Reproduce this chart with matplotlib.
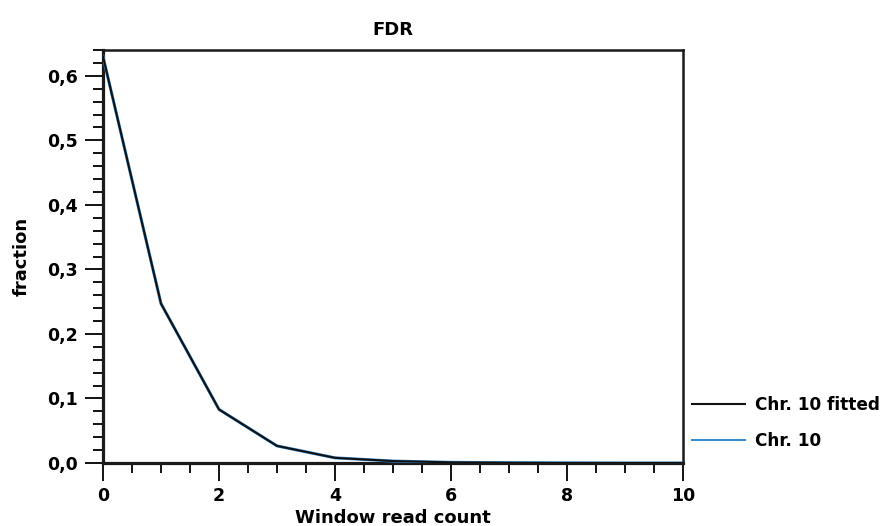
import numpy as np
import matplotlib
matplotlib.use("Agg")
import matplotlib.pyplot as plt
from matplotlib.ticker import MultipleLocator, FuncFormatter
from matplotlib.lines import Line2D

plt.rcParams['font.family'] = ['DejaVu Sans']
plt.rcParams['font.weight'] = 'bold'

# values
window_count = [0, 1, 2, 3, 4, 5, 6, 7, 8, 9, 10]
chr10 = [0.63, 0.247, 0.083, 0.0265, 0.008, 0.003, 0.001, 0.0004, 0.0001, 0.0, 0.0]
chr10_fitted = [0.63, 0.247, 0.083, 0.0265, 0.008, 0.003, 0.001, 0.0004, 0.0001, 0.0, 0.0]
series_labels = ["Chr. 10 fitted", "Chr. 10"]

fig = plt.figure(figsize=(8.85, 5.26), dpi=100)
ax = fig.add_axes([103 / 885, 1 - 463 / 526, 580 / 885, 413 / 526])

ax.plot(window_count, chr10, color='#3a8ed4', lw=2.2, zorder=3)
ax.plot(window_count, chr10_fitted, color='#111111', lw=1.5, zorder=4)

ax.set_xlim(0, 10)
ax.set_ylim(0, 0.64)
ax.xaxis.set_major_locator(MultipleLocator(2))
ax.xaxis.set_minor_locator(MultipleLocator(0.5))
ax.yaxis.set_major_locator(MultipleLocator(0.1))
ax.yaxis.set_minor_locator(MultipleLocator(0.02))
ax.yaxis.set_major_formatter(FuncFormatter(lambda v, p: f"{v:.1f}".replace('.', ',')))
ax.xaxis.set_major_formatter(FuncFormatter(lambda v, p: f"{v:.0f}"))

ax.tick_params(which='major', direction='out', length=13, width=1.3, labelsize=12.5, pad=4)
ax.tick_params(which='minor', direction='out', length=7.5, width=1.3)
ax.tick_params(axis='y', which='major', pad=5)

for side in ['left', 'bottom']:
    ax.spines[side].set_linewidth(2.3)
for side in ['top', 'right']:
    ax.spines[side].set_linewidth(1.8)
for sp in ax.spines.values():
    sp.set_color('#1a1a1a')

ax.set_title("FDR", fontsize=13, fontweight='bold', pad=11)
ax.set_xlabel("Window read count", fontsize=13, fontweight='bold', labelpad=3)
ax.set_ylabel("fraction", fontsize=13, fontweight='bold', labelpad=12)

handles = [Line2D([], [], color='#111111', lw=1.5),
           Line2D([], [], color='#3a8ed4', lw=1.5)]
fig.legend(handles, series_labels, loc='upper left', bbox_to_anchor=(692 / 885, 1 - 396 / 526),
           frameon=False, borderpad=0, borderaxespad=0, fontsize=12.2,
           handlelength=3.1, handletextpad=0.6, labelspacing=1.05)

fig.savefig("out.png", dpi=100)
